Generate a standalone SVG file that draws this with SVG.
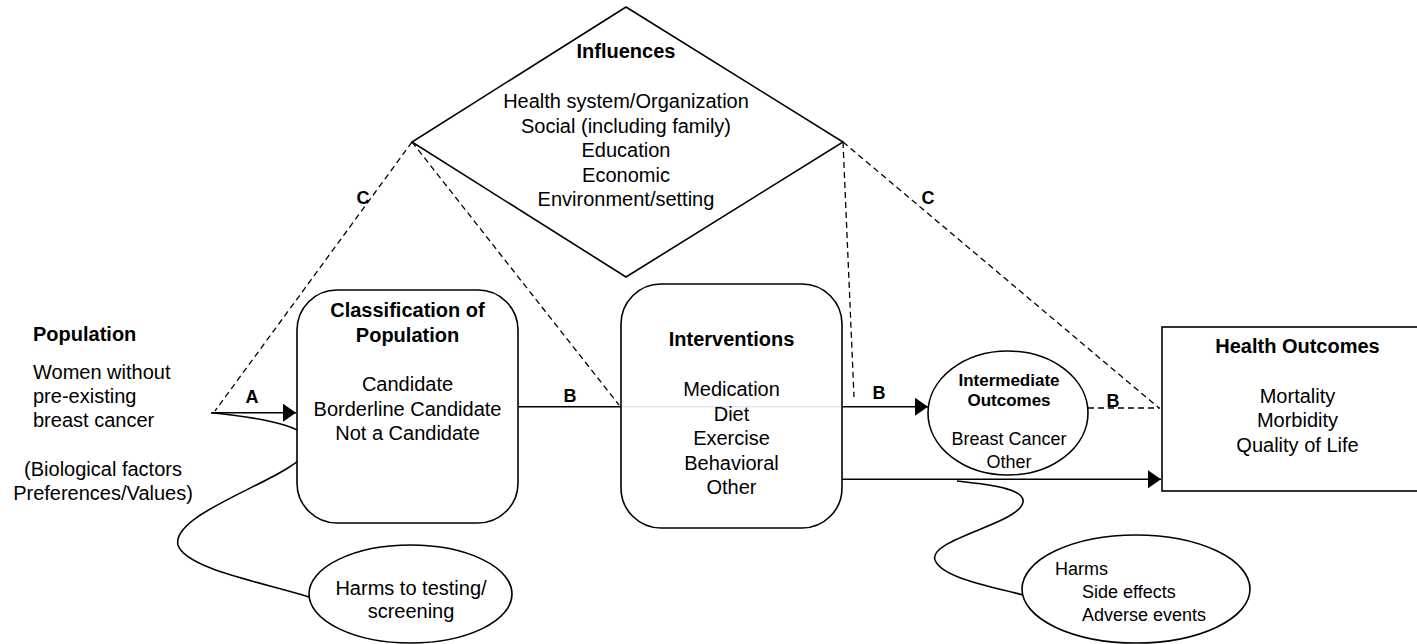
<svg xmlns="http://www.w3.org/2000/svg" width="1417" height="644" viewBox="0 0 1417 644">
<defs>
<marker id="arr" markerUnits="userSpaceOnUse" markerWidth="13" markerHeight="18" refX="13" refY="9" orient="auto"><path d="M0,0 L13,9 L0,18 z" fill="#000"/></marker>
<style>
text{font-family:"Liberation Sans",Arial,sans-serif;fill:#000}
.t{font-size:20px;text-anchor:middle}
.tb{font-size:20px;font-weight:bold;text-anchor:middle}
.l{font-size:20px}
.lb{font-size:20px;font-weight:bold}
.lab{font-size:18px;font-weight:bold;text-anchor:middle}
.s{fill:#fff;stroke:#000;stroke-width:1.6}
.ln{fill:none;stroke:#000;stroke-width:1.6}
.d{fill:none;stroke:#000;stroke-width:1.3;stroke-dasharray:6,4}
</style>
</defs>
<rect width="1417" height="644" fill="#fff"/>
<g id="connectors">
<path class="d" d="M412,142 L215,411"/>
<path class="d" d="M412,142 L619,405"/>
<path class="d" d="M843,142 L854,397"/>
<path class="d" d="M843,142 L1159,408"/>
<path class="d" d="M1088,408 L1160,408"/>
<path class="ln" d="M211,412.7 L296,412.7" marker-end="url(#arr)"/>
<path class="ln" d="M518,406.7 L621,406.7"/>
<path d="M621,406.7 L842,406.7" stroke="#dde3f4" stroke-width="1.2" fill="none"/>
<path class="ln" d="M842,406.7 L928,406.7" marker-end="url(#arr)"/>
<path class="ln" d="M842,479.3 L1161,479.3" marker-end="url(#arr)"/>
<path class="ln" d="M211,412.7 C265,418 320,428 308,450 C295,478 170,512 178,545 C185,568 260,582 309,597"/>
<path class="ln" d="M957,481 C995,485 1030,490 1022,505 C1012,525 928,540 935,560 C942,578 990,586 1023,595"/>
<text class="lab" x="252" y="403">A</text>
<text class="lab" x="570" y="402">B</text>
<text class="lab" x="879" y="399">B</text>
<text class="lab" x="1113" y="407">B</text>
<text class="lab" x="363" y="204">C</text>
<text class="lab" x="928" y="204">C</text>
</g>
<g id="influences">
<polygon class="s" points="626,7 843,142 626,277 412,142"/>
<text class="tb" x="626" y="58">Influences</text>
<text class="t" x="626" y="108">Health system/Organization</text>
<text class="t" x="626" y="132.5">Social (including family)</text>
<text class="t" x="626" y="157">Education</text>
<text class="t" x="626" y="181.5">Economic</text>
<text class="t" x="626" y="206">Environment/setting</text>
</g>
<g id="population">
<text class="lb" x="33" y="341">Population</text>
<text class="l" x="33" y="379">Women without</text>
<text class="l" x="33" y="403">pre-existing</text>
<text class="l" x="33" y="427">breast cancer</text>
<text class="t" x="103" y="476">(Biological factors</text>
<text class="t" x="103" y="500">Preferences/Values)</text>
</g>
<g id="classification">
<rect class="s" x="297" y="290" width="221" height="233" rx="40"/>
<text class="tb" x="407.5" y="317">Classification of</text>
<text class="tb" x="407.5" y="342">Population</text>
<text class="t" x="407.5" y="391">Candidate</text>
<text class="t" x="407.5" y="415.5">Borderline Candidate</text>
<text class="t" x="407.5" y="440">Not a Candidate</text>
</g>
<g id="interventions">
<rect class="s" x="621" y="284" width="221" height="244" rx="40"/>
<path d="M622,406.7 L841,406.7" stroke="#dde3f4" stroke-width="1.2" fill="none"/>
<text class="tb" x="731.5" y="346">Interventions</text>
<text class="t" x="731.5" y="396">Medication</text>
<text class="t" x="731.5" y="420.5">Diet</text>
<text class="t" x="731.5" y="445">Exercise</text>
<text class="t" x="731.5" y="469.5">Behavioral</text>
<text class="t" x="731.5" y="494">Other</text>
</g>
<g id="intermediate">
<ellipse class="s" cx="1008" cy="413" rx="80" ry="62"/>
<text x="1009" y="386" style="font-size:17px;font-weight:bold;text-anchor:middle">Intermediate</text>
<text x="1009" y="406" style="font-size:17px;font-weight:bold;text-anchor:middle">Outcomes</text>
<text x="1009" y="445" style="font-size:18px;text-anchor:middle">Breast Cancer</text>
<text x="1009" y="468" style="font-size:18px;text-anchor:middle">Other</text>
</g>
<g id="health-outcomes">
<rect class="s" x="1162" y="327" width="268" height="164"/>
<text class="tb" x="1297.5" y="353">Health Outcomes</text>
<text class="t" x="1297.5" y="403">Mortality</text>
<text class="t" x="1297.5" y="427">Morbidity</text>
<text class="t" x="1297.5" y="452">Quality of Life</text>
</g>
<g id="harms-screening">
<ellipse class="s" cx="410.5" cy="594" rx="101.5" ry="49"/>
<text class="t" x="411" y="595">Harms to testing/</text>
<text class="t" x="411" y="618">screening</text>
</g>
<g id="harms">
<ellipse class="s" cx="1136" cy="589" rx="114" ry="54"/>
<text x="1055" y="575" style="font-size:18px">Harms</text>
<text x="1082" y="598" style="font-size:18px">Side effects</text>
<text x="1082" y="621" style="font-size:18px">Adverse events</text>
</g>
</svg>
